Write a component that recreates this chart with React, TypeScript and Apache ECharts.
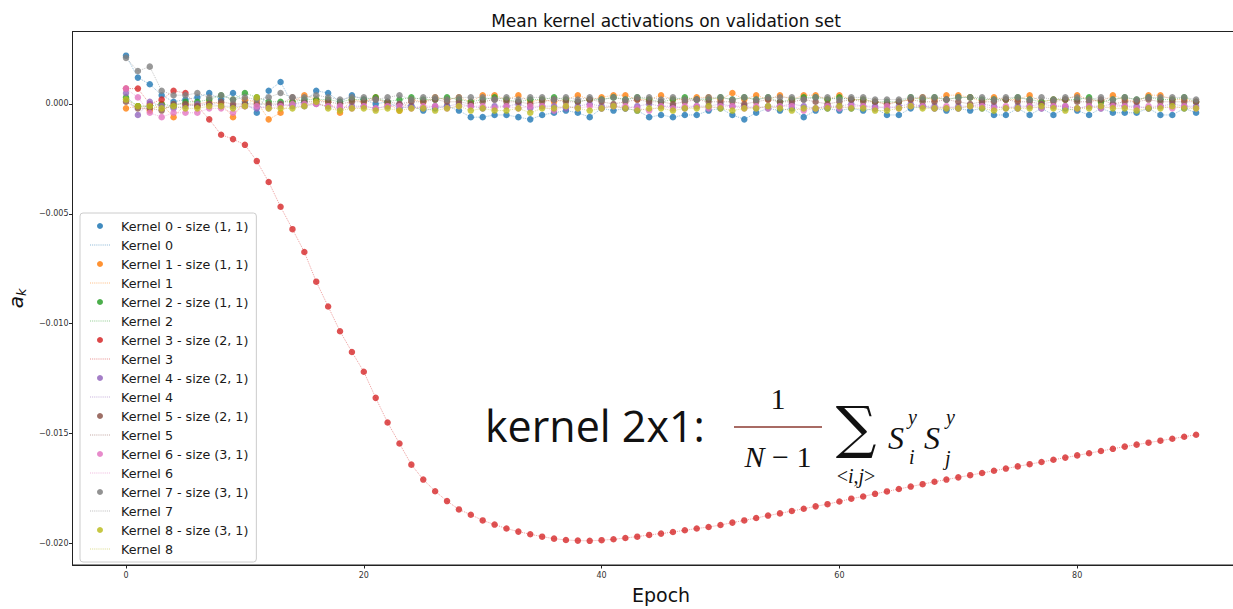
import React, { useEffect, useRef } from "react";
import * as echarts from "echarts";

const epochs: number[] = Array.from({ length: 91 }, (_, i) => i);
const kernelSizes = ["(1, 1)", "(1, 1)", "(1, 1)", "(2, 1)", "(2, 1)", "(2, 1)", "(3, 1)", "(3, 1)", "(3, 1)"];
const colors = ["#1f77b4", "#ff7f0e", "#2ca02c", "#d62728", "#9467bd", "#8c564b", "#e377c2", "#7f7f7f", "#bcbd22"];
const xTicks = [0, 20, 40, 60, 80];
const yTicks = [0, -0.005, -0.01, -0.015, -0.02];

const kernel0 = [
  0.0022, 0.0012, 0.0009, 0.0004, 0.0001, 0.0002, 0.0003, 0.0005, 0.0002, 0.0005,
  0.0001, -0.0004, 0.0006, 0.001, 0.0, 0.0001, 0.0006, 0.0005, 0.0001, 0.0004,
  0.0002, 0.0, 0.0001, -0.0002, -0.0001, -0.0003, -0.0002, -0.0001, -0.0003, -0.0006,
  -0.0006, -0.0005, -0.0005, -0.0006, -0.0007, -0.0005, -0.0004, -0.0003, -0.0004, -0.0006,
  -0.0002, -0.0003, -0.0002, -0.0003, -0.0006, -0.0005, -0.0006, -0.0005, -0.0005, -0.0003,
  -0.0002, -0.0005, -0.0007, -0.0004, -0.0002, -0.0003, -0.0002, -0.0006, -0.0003, -0.0002,
  -0.0003, -0.0002, -0.0003, -0.0002, -0.0005, -0.0005, -0.0002, -0.0001, -0.0002, -0.0003,
  -0.0002, -0.0003, -0.0002, -0.0005, -0.0005, -0.0002, -0.0005, -0.0002, -0.0005, -0.0002,
  -0.0003, -0.0005, -0.0002, -0.0004, -0.0004, -0.0004, -0.0002, -0.0005, -0.0005, -0.0002,
  -0.0004,
];
const kernel1 = [
  -0.0002, -0.0001, -0.0003, 0.0, -0.0006, 0.0, 0.0, 0.0001, 0.0, -0.0006,
  0.0002, 0.0001, -0.0007, -0.0004, 0.0001, 0.0004, 0.0002, 0.0001, -0.0004, 0.0002,
  0.0001, 0.0003, 0.0, -0.0003, 0.0002, 0.0001, 0.0003, 0.0002, 0.0003, 0.0001,
  0.0004, 0.0004, 0.0002, 0.0004, 0.0001, 0.0002, 0.0001, 0.0002, 0.0004, 0.0002,
  0.0003, 0.0004, 0.0004, 0.0002, 0.0002, 0.0004, 0.0002, 0.0002, 0.0003, 0.0003,
  0.0002, 0.0005, 0.0002, 0.0004, 0.0002, 0.0004, 0.0002, 0.0004, 0.0004, 0.0002,
  0.0004, 0.0002, 0.0002, 0.0001, 0.0, 0.0001, 0.0002, 0.0003, 0.0002, 0.0004,
  0.0004, 0.0003, 0.0001, 0.0003, 0.0002, 0.0002, 0.0004, 0.0001, 0.0002, 0.0002,
  0.0004, 0.0002, 0.0001, 0.0004, 0.0002, 0.0001, 0.0004, 0.0004, 0.0002, 0.0002,
  0.0001,
];
const kernel2 = [
  0.0003, -0.0001, -0.0001, 0.0, -0.0001, 0.0001, 0.0001, 0.0002, 0.0004, 0.0002,
  0.0005, 0.0003, 0.0001, 0.0001, 0.0001, 0.0002, 0.0002, 0.0002, 0.0001, 0.0002,
  0.0002, 0.0003, 0.0001, 0.0002, 0.0003, 0.0002, 0.0002, 0.0003, 0.0002, 0.0001,
  0.0002, 0.0003, 0.0002, 0.0001, 0.0002, 0.0002, 0.0003, 0.0002, 0.0001, 0.0002,
  0.0002, 0.0003, 0.0002, 0.0003, 0.0002, 0.0001, 0.0002, 0.0003, 0.0002, 0.0002,
  0.0003, 0.0002, 0.0003, 0.0002, 0.0003, 0.0001, 0.0002, 0.0003, 0.0003, 0.0002,
  0.0003, 0.0002, 0.0002, 0.0001, 0.0001, 0.0001, 0.0003, 0.0002, 0.0003, 0.0002,
  0.0003, 0.0003, 0.0002, 0.0002, 0.0002, 0.0003, 0.0002, 0.0001, 0.0002, 0.0002,
  0.0002, 0.0003, 0.0001, 0.0002, 0.0003, 0.0002, 0.0003, 0.0002, 0.0002, 0.0003,
  0.0001,
];
const kernel3 = [
  0.0007, 0.0007, 0.0, 0.0002, 0.0006, 0.0005, -0.0001, -0.0007, -0.0014, -0.0016,
  -0.00186, -0.0026, -0.00355, -0.00468, -0.0057, -0.00674, -0.00809, -0.00922, -0.01035, -0.01129,
  -0.01219, -0.01338, -0.0145, -0.01546, -0.01642, -0.0171, -0.01763, -0.01808, -0.01846, -0.0187,
  -0.01896, -0.01915, -0.01933, -0.01947, -0.01959, -0.0197, -0.01979, -0.01985, -0.01988, -0.01989,
  -0.01986, -0.01982, -0.01976, -0.0197, -0.01962, -0.01956, -0.01949, -0.01941, -0.01933, -0.01926,
  -0.01917, -0.01906, -0.01896, -0.01885, -0.01874, -0.01864, -0.01853, -0.01843, -0.01832, -0.01822,
  -0.0181, -0.01797, -0.01787, -0.01775, -0.01764, -0.01753, -0.01742, -0.01731, -0.0172, -0.0171,
  -0.017, -0.0169, -0.0168, -0.0167, -0.0166, -0.0165, -0.0164, -0.0163, -0.0162, -0.0161,
  -0.016, -0.0159, -0.0158, -0.0157, -0.0156, -0.01551, -0.01542, -0.01533, -0.01524, -0.01515,
  -0.01506,
];
const kernel4 = [
  0.0005, -0.0005, 0.0001, -0.0001, -0.0002, -0.0001, 0.0, 0.0, -0.0001, -0.0001,
  -0.0001, -0.0002, -0.0001, 0.0, -0.0001, -0.0001, 0.0, -0.0001, -0.0002, -0.0001,
  -0.0001, -0.0002, -0.0001, 0.0, -0.0001, -0.0002, -0.0001, -0.0001, 0.0, -0.0001,
  -0.0002, -0.0001, -0.0001, 0.0, -0.0002, -0.0001, -0.0001, -0.0002, -0.0001, 0.0,
  -0.0001, -0.0001, -0.0002, -0.0001, 0.0, -0.0001, -0.0001, -0.0002, -0.0001, -0.0001,
  0.0, -0.0001, -0.0001, -0.0002, -0.0001, -0.0001, 0.0, -0.0001, -0.0002, -0.0001,
  -0.0001, 0.0, -0.0001, -0.0001, -0.0002, -0.0001, 0.0, -0.0001, -0.0001, -0.0002,
  -0.0001, -0.0001, 0.0, -0.0001, -0.0002, -0.0001, -0.0001, 0.0, -0.0001, -0.0001,
  -0.0002, -0.0001, -0.0001, 0.0, -0.0001, -0.0001, -0.0002, -0.0001, 0.0, -0.0001,
  -0.0001,
];
const kernel5 = [
  0.0001, -0.0002, -0.0002, -0.0003, 0.0, 0.0, -0.0001, 0.0, 0.0001, 0.0,
  0.0, 0.0, 0.0, 0.0, 0.0003, 0.0001, 0.0001, 0.0001, 0.0, 0.0001,
  0.0001, 0.0002, 0.0001, 0.0, 0.0001, 0.0001, 0.0002, 0.0001, 0.0001, 0.0,
  0.0001, 0.0002, 0.0001, 0.0001, 0.0, 0.0001, 0.0002, 0.0001, 0.0001, 0.0002,
  0.0001, 0.0, 0.0001, 0.0002, 0.0001, 0.0001, 0.0, 0.0001, 0.0002, 0.0001,
  0.0001, 0.0001, 0.0, 0.0001, 0.0002, 0.0001, 0.0001, 0.0002, 0.0001, 0.0,
  0.0001, 0.0002, 0.0001, 0.0001, 0.0, 0.0001, 0.0002, 0.0001, 0.0001, 0.0002,
  0.0001, 0.0, 0.0001, 0.0001, 0.0002, 0.0001, 0.0001, 0.0, 0.0001, 0.0002,
  0.0001, 0.0001, 0.0002, 0.0, 0.0001, 0.0001, 0.0002, 0.0001, 0.0001, 0.0001,
  0.0001,
];
const kernel6 = [
  0.0007, 0.0003, -0.0004, -0.0006, -0.0004, -0.0004, -0.0004, -0.0002, -0.0002, -0.0004,
  -0.0001, -0.0001, -0.0002, -0.0001, 0.0, 0.0, 0.0, -0.0001, -0.0001, -0.0002,
  -0.0001, -0.0002, -0.0001, -0.0001, -0.0002, -0.0001, -0.0001, -0.0002, -0.0001, -0.0001,
  -0.0001, -0.0002, -0.0001, -0.0002, -0.0001, -0.0001, -0.0003, -0.0001, -0.0002, -0.0001,
  -0.0002, -0.0001, -0.0001, -0.0002, -0.0003, -0.0001, -0.0002, -0.0001, -0.0001, -0.0002,
  -0.0001, -0.0001, -0.0002, -0.0001, -0.0002, -0.0001, -0.0001, -0.0003, -0.0002, -0.0001,
  -0.0002, -0.0001, -0.0001, -0.0002, -0.0001, -0.0002, -0.0001, -0.0001, -0.0002, -0.0001,
  -0.0002, -0.0001, -0.0001, -0.0002, -0.0001, -0.0002, -0.0001, -0.0002, -0.0001, -0.0001,
  -0.0002, -0.0001, -0.0002, -0.0001, -0.0001, -0.0002, -0.0001, -0.0001, -0.0002, -0.0001,
  -0.0002,
];
const kernel7 = [
  0.0021, 0.0015, 0.0017, 0.0006, 0.0004, 0.0004, 0.0005, 0.0003, 0.0004, 0.0002,
  0.0003, 0.0002, 0.0003, 0.0005, 0.0003, 0.0003, 0.0004, 0.0003, 0.0002, 0.0003,
  0.0003, 0.0002, 0.0003, 0.0004, 0.0002, 0.0003, 0.0003, 0.0002, 0.0003, 0.0003,
  0.0003, 0.0002, 0.0003, 0.0002, 0.0003, 0.0003, 0.0002, 0.0003, 0.0002, 0.0003,
  0.0002, 0.0003, 0.0002, 0.0003, 0.0003, 0.0002, 0.0003, 0.0002, 0.0002, 0.0003,
  0.0003, 0.0002, 0.0003, 0.0002, 0.0003, 0.0003, 0.0003, 0.0002, 0.0003, 0.0003,
  0.0002, 0.0003, 0.0003, 0.0002, 0.0002, 0.0002, 0.0003, 0.0003, 0.0003, 0.0002,
  0.0003, 0.0003, 0.0003, 0.0002, 0.0003, 0.0003, 0.0002, 0.0003, 0.0002, 0.0003,
  0.0003, 0.0002, 0.0003, 0.0002, 0.0003, 0.0002, 0.0003, 0.0003, 0.0003, 0.0003,
  0.0002,
];
const kernel8 = [
  0.0002, -0.0001, -0.0001, -0.0002, -0.0001, -0.0002, -0.0002, -0.0001, -0.0001, -0.0002,
  -0.0001, 0.0003, -0.0002, -0.0002, -0.0002, -0.0001, 0.0001, -0.0002, -0.0003, -0.0002,
  -0.0002, -0.0003, -0.0002, -0.0003, -0.0002, -0.0002, -0.0003, -0.0002, -0.0001, -0.0003,
  -0.0002, -0.0003, -0.0003, -0.0002, -0.0004, -0.0002, -0.0002, -0.0001, -0.0002, -0.0003,
  -0.0002, -0.0001, -0.0002, -0.0003, -0.0002, -0.0002, -0.0003, -0.0002, -0.0002, -0.0001,
  -0.0002, -0.0003, -0.0002, -0.0002, -0.0001, -0.0002, -0.0003, -0.0002, -0.0002, -0.0002,
  -0.0001, -0.0002, -0.0002, -0.0003, -0.0003, -0.0002, -0.0001, -0.0002, -0.0002, -0.0002,
  -0.0002, -0.0001, -0.0002, -0.0003, -0.0002, -0.0002, -0.0002, -0.0001, -0.0002, -0.0003,
  -0.0002, -0.0002, -0.0001, -0.0002, -0.0002, -0.0003, -0.0002, -0.0002, -0.0001, -0.0002,
  -0.0002,
];

const kernels = [kernel0, kernel1, kernel2, kernel3, kernel4, kernel5, kernel6, kernel7, kernel8];

const fmtY = (v: number) => (v < 0 ? "\u2212" : "") + Math.abs(v).toFixed(3);

// dotted-line legend icon (10 short dashes in a 20 x 1 strip)
let dottedIcon = "path://";
for (let i = 0; i < 10; i++) dottedIcon += `M${i * 2},0h1v1h-1z`;

export default function App() {
  const ref = useRef<HTMLDivElement>(null);

  useEffect(() => {
    if (!ref.current) return;
    const chart = echarts.init(ref.current, null, { renderer: "svg" });

    const series: any[] = [];
    const legendData: any[] = [];
    kernels.forEach((vals, k) => {
      const data = epochs.map((e, i) => [e, vals[i]]);
      const sName = `Kernel ${k} - size ${kernelSizes[k]}`;
      const lName = `Kernel ${k}`;
      series.push({
        type: "scatter",
        name: sName,
        data,
        symbolSize: 6.5,
        itemStyle: { color: colors[k], opacity: 0.8 },
        silent: true,
        z: 3,
      });
      series.push({
        type: "line",
        name: lName,
        data,
        symbol: "none",
        showSymbol: false,
        itemStyle: { color: colors[k] },
        lineStyle: { color: colors[k], width: 1, type: "dotted", opacity: 0.45 },
        silent: true,
        z: 2,
      });
      legendData.push({ name: sName, icon: "circle", itemStyle: { color: colors[k], opacity: 0.85 } });
      legendData.push({ name: lName, icon: dottedIcon, itemStyle: { color: colors[k], opacity: 0.5 } });
    });

    chart.setOption({
      animation: false,
      backgroundColor: "#ffffff",
      title: {
        text: "Mean kernel activations on validation set",
        left: 661,
        top: 7,
        textAlign: "center",
        textStyle: { fontSize: 17, fontWeight: "normal", fontFamily: "DejaVu Sans", color: "#111" },
      },
      grid: {
        left: 72.5,
        right: -16.6,
        top: 31.5,
        bottom: 44,
        outerBoundsMode: "none",
        containLabel: false,
        show: true,
        borderColor: "#222",
        borderWidth: 1,
        backgroundColor: "transparent",
      },
      legend: {
        orient: "vertical",
        left: 80,
        top: 213,
        padding: [6, 8, 6, 10],
        itemWidth: 20,
        itemHeight: 6,
        itemGap: 5,
        selectedMode: false,
        backgroundColor: "rgba(255,255,255,0.85)",
        borderColor: "#cccccc",
        borderWidth: 1,
        borderRadius: 3,
        textStyle: { fontSize: 12.7, fontFamily: "DejaVu Sans", color: "#1a1a1a", lineHeight: 14, padding: [0, 0, 0, 6] },
        data: legendData,
        z: 10,
      },
      xAxis: {
        type: "value",
        min: -4.5,
        max: 94.5,
        name: "Epoch",
        nameLocation: "middle",
        nameGap: 20,
        nameTextStyle: { fontSize: 19, fontFamily: "DejaVu Sans", color: "#111" },
        axisLine: { show: true, onZero: false, lineStyle: { color: "#222", width: 1 } },
        axisTick: { show: true, customValues: xTicks, length: 3.5, lineStyle: { color: "#222" } },
        axisLabel: { customValues: xTicks, fontSize: 8, color: "#333", margin: 6, fontFamily: "DejaVu Sans" },
        splitLine: { show: false },
      },
      yAxis: {
        type: "value",
        min: -0.02099,
        max: 0.0033,
        name: "{a|a}{k|k}",
        nameLocation: "middle",
        nameGap: 44,
        nameRotate: 90,
        nameTextStyle: {
          rich: {
            a: { fontSize: 20, fontStyle: "italic", fontFamily: "DejaVu Sans", color: "#111" },
            k: { fontSize: 13, fontStyle: "italic", fontFamily: "DejaVu Sans", color: "#111", padding: [10, 0, 0, 0] },
          },
        },
        axisLine: { show: true, onZero: false, lineStyle: { color: "#222", width: 1 } },
        axisTick: { show: true, customValues: yTicks, length: 3.5, lineStyle: { color: "#222" } },
        axisLabel: { customValues: yTicks, fontSize: 8, color: "#333", margin: 4, formatter: fmtY, fontFamily: "DejaVu Sans" },
        splitLine: { show: false },
      },
      graphic: [
        {
          type: "text",
          left: 485,
          top: 404,
          style: { text: "kernel 2x1:", fontSize: 43, fontFamily: "Open Sans", fill: "#111" },
          z: 20,
        },
        {
          type: "text",
          x: 778,
          y: 398,
          style: { text: "1", fontSize: 30, fontFamily: "Liberation Serif", fill: "#111", align: "center", verticalAlign: "middle" },
          z: 20,
        },
        {
          type: "line",
          shape: { x1: 734, y1: 427, x2: 822, y2: 427 },
          style: { stroke: "#8b3a30", lineWidth: 1.5 },
          z: 20,
        },
        {
          type: "text",
          x: 778,
          y: 456,
          style: {
            text: "{it|N} \u2212 1",
            fontSize: 30,
            fontFamily: "Liberation Serif",
            fill: "#111",
            align: "center",
            verticalAlign: "middle",
            rich: { it: { fontSize: 30, fontStyle: "italic", fontFamily: "Liberation Serif", fill: "#111" } },
          },
          z: 20,
        },
        {
          type: "text",
          x: 856,
          y: 427,
          style: { text: "\u2211", fontSize: 57, fontFamily: "DejaVu Serif", fill: "#111", align: "center", verticalAlign: "middle" },
          z: 20,
        },
        {
          type: "text",
          x: 856,
          y: 476,
          style: {
            text: "<{it|i},{it|j}>",
            fontSize: 20,
            fontFamily: "Liberation Serif",
            fill: "#111",
            align: "center",
            verticalAlign: "middle",
            rich: { it: { fontSize: 20, fontStyle: "italic", fontFamily: "Liberation Serif", fill: "#111" } },
          },
          z: 20,
        },
        {
          type: "text",
          x: 888,
          y: 438,
          style: { text: "S", fontSize: 32, fontStyle: "italic", fontFamily: "Liberation Serif", fill: "#111", verticalAlign: "middle" },
          z: 20,
        },
        {
          type: "text",
          x: 908,
          y: 417,
          style: { text: "y", fontSize: 20, fontStyle: "italic", fontFamily: "Liberation Serif", fill: "#111", verticalAlign: "middle" },
          z: 20,
        },
        {
          type: "text",
          x: 909,
          y: 457,
          style: { text: "i", fontSize: 20, fontStyle: "italic", fontFamily: "Liberation Serif", fill: "#111", verticalAlign: "middle" },
          z: 20,
        },
        {
          type: "text",
          x: 924,
          y: 438,
          style: { text: "S", fontSize: 32, fontStyle: "italic", fontFamily: "Liberation Serif", fill: "#111", verticalAlign: "middle" },
          z: 20,
        },
        {
          type: "text",
          x: 946,
          y: 417,
          style: { text: "y", fontSize: 20, fontStyle: "italic", fontFamily: "Liberation Serif", fill: "#111", verticalAlign: "middle" },
          z: 20,
        },
        {
          type: "text",
          x: 945,
          y: 458,
          style: { text: "j", fontSize: 20, fontStyle: "italic", fontFamily: "Liberation Serif", fill: "#111", verticalAlign: "middle" },
          z: 20,
        },
      ],
      series,
    });

    return () => chart.dispose();
  }, []);

  return (
    <div
      ref={ref}
      style={{ position: "absolute", left: 0, top: 0, width: 1233, height: 609, background: "#fff" }}
    />
  );
}
